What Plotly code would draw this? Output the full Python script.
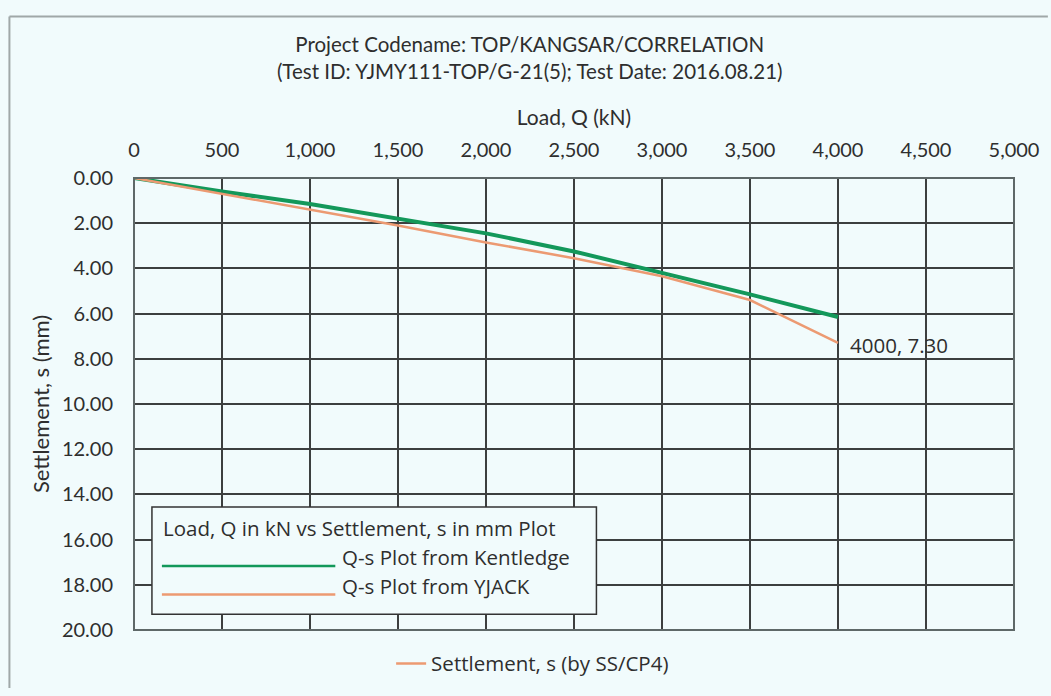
import plotly.graph_objects as go

# ---- data ----
load_kentledge = [0, 500, 1000, 1500, 2000, 2500, 3000, 3500, 4000]
settle_kentledge = [0.00, 0.60, 1.15, 1.80, 2.45, 3.25, 4.20, 5.15, 6.15]
load_yjack = [0, 500, 1000, 1500, 2000, 2500, 3000, 3500, 4000]
settle_yjack = [0.00, 0.70, 1.40, 2.10, 2.85, 3.55, 4.35, 5.40, 7.30]
x_ticks = [0, 500, 1000, 1500, 2000, 2500, 3000, 3500, 4000, 4500, 5000]
y_ticks = [0, 2, 4, 6, 8, 10, 12, 14, 16, 18, 20]

GREEN = "#13985a"
ORANGE = "#ec9a72"
BG = "#f1fbfc"
GRID = "#3c3f3f"
TXT = "#2e2e2e"
FONT = "Lato"
FONT2 = "Open Sans"
F2SIZE = 20.5

fig = go.Figure()
fig.add_trace(go.Scatter(x=load_kentledge, y=settle_kentledge, mode="lines",
                         line=dict(color=GREEN, width=4), showlegend=False,
                         name="Q-s Plot from Kentledge"))
fig.add_trace(go.Scatter(x=load_yjack, y=settle_yjack, mode="lines",
                         line=dict(color=ORANGE, width=2.5),
                         name="Settlement, s (by SS/CP4)"))

fig.add_annotation(x=load_yjack[-1], y=settle_yjack[-1], xref="x", yref="y",
                   text=f"{load_yjack[-1]}, {settle_yjack[-1]:.2f}", showarrow=False,
                   xanchor="left", yanchor="middle", xshift=10, yshift=-2,
                   font=dict(family=FONT2, size=F2SIZE, color=TXT))

L, R, T, B = 134, 1017, 178, 637
def px(x):
    return (x - L) / (R - L)
def py(y):
    return (B - y) / (B - T)

shapes = [
    dict(type="rect", xref="paper", yref="paper", x0=0, x1=1, y0=0, y1=1,
         line=dict(color="#5e6868", width=2), fillcolor="rgba(0,0,0,0)", layer="above"),
    dict(type="rect", xref="paper", yref="paper",
         x0=px(152), x1=px(598), y0=py(621), y1=py(512),
         line=dict(color="#333", width=1.5), fillcolor=BG, layer="above"),
    dict(type="line", xref="paper", yref="paper",
         x0=px(162), x1=px(336), y0=py(572), y1=py(572),
         line=dict(color=GREEN, width=2.5), layer="above"),
    dict(type="line", xref="paper", yref="paper",
         x0=px(162), x1=px(336), y0=py(601), y1=py(601),
         line=dict(color=ORANGE, width=2.5), layer="above"),
    dict(type="line", xref="paper", yref="paper",
         x0=px(9), x1=px(1051), y0=py(14), y1=py(14),
         line=dict(color="#a0a8a8", width=2)),
    dict(type="line", xref="paper", yref="paper",
         x0=px(9), x1=px(9), y0=py(14), y1=py(696),
         line=dict(color="#a0a8a8", width=2)),
]

for txt, xx, yy in [("Load, Q in kN vs Settlement, s in mm Plot", 161, 533),
                    ("Q-s Plot from Kentledge", 341, 563),
                    ("Q-s Plot from YJACK", 341, 592)]:
    fig.add_annotation(x=px(xx), y=py(yy), xref="paper", yref="paper", text=txt,
                       showarrow=False, xanchor="left", yanchor="middle",
                       font=dict(family=FONT2, size=F2SIZE, color=TXT))

fig.update_layout(
    width=1051, height=696,
    margin=dict(l=L, r=1051 - R, t=T, b=696 - B),
    paper_bgcolor=BG, plot_bgcolor=BG,
    font=dict(family=FONT, size=20, color=TXT),
    title=dict(text="Project Codename: TOP/KANGSAR/CORRELATION<br>(Test ID: YJMY111-TOP/G-21(5); Test Date: 2016.08.21)",
               x=0.504, xanchor="center", y=1 - 52 / 696, yanchor="middle",
               font=dict(family=FONT, size=20.5, color=TXT)),
    xaxis=dict(side="top", range=[0, 5000], tickvals=x_ticks,
               ticktext=[f"{v:,}" for v in x_ticks],
               showgrid=True, gridcolor=GRID, gridwidth=2, zeroline=False,
               showline=False, ticks="", ticklabelstandoff=16,
               tickfont=dict(size=20),
               title=dict(text="Load, Q (kN)", standoff=5, font=dict(size=21))),
    yaxis=dict(range=[20, 0], tickvals=y_ticks,
               ticktext=[f"{v:.2f}" for v in y_ticks],
               showgrid=True, gridcolor=GRID, gridwidth=2, zeroline=False,
               showline=False, ticks="", ticklabelstandoff=20,
               tickfont=dict(size=20),
               title=dict(text="Settlement, s (mm)", standoff=6, font=dict(size=22))),
    legend=dict(orientation="h", x=px(392), xanchor="left", y=-0.03, yanchor="top",
                bgcolor="rgba(0,0,0,0)", font=dict(family=FONT2, size=F2SIZE, color=TXT)),
    shapes=shapes,
)

fig.write_html("out.html", config={"displayModeBar": False},
               post_script="document.body.style.margin='0';")
